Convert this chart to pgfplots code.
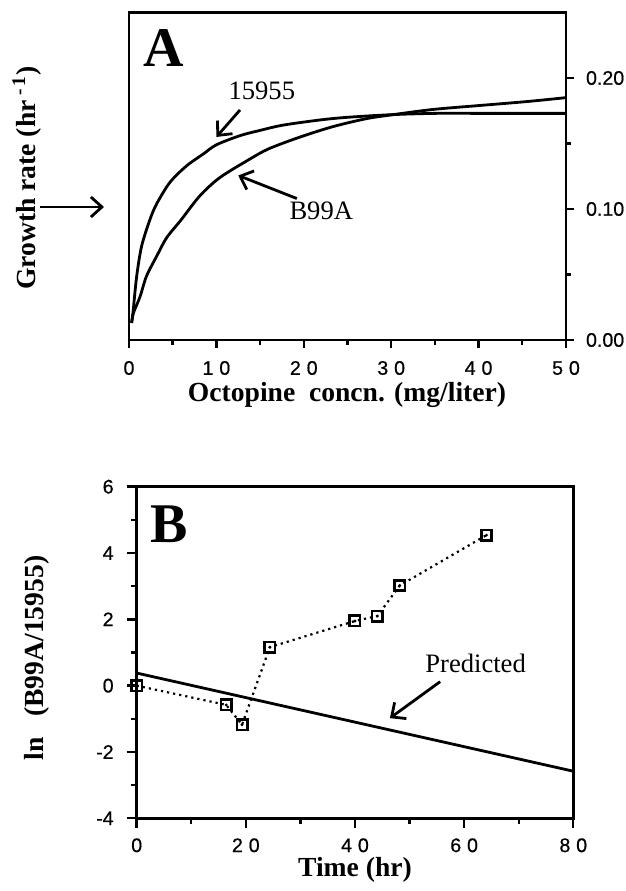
\documentclass[border=0pt]{standalone}
\usepackage{fontspec}
\setmainfont{Liberation Serif}
\newfontfamily\tickfont[FakeBold=0.6]{Liberation Sans}
\newfontfamily\xtickfont[LetterSpace=30,FakeBold=0.6]{Liberation Sans}
\usepackage{pgfplots}
\pgfplotsset{compat=1.18}
\usetikzlibrary{arrows.meta}

\pgfplotsset{
  panel/.style={
    scale only axis, anchor=south west,
    tick align=outside,
    axis line style={line width=1.4pt},
    every tick/.style={line width=1.2pt, black},
    every minor tick/.style={line width=1.2pt, black},
    xticklabel style={font=\xtickfont\fontsize{9.8}{11}\selectfont},
    yticklabel style={font=\tickfont\fontsize{9.8}{11}\selectfont},
    /pgf/number format/assume math mode=true,
    clip=false,
  },
}
\tikzset{
  lab/.style={font=\bfseries\fontsize{13.8}{16}\selectfont},
  ann/.style={font=\fontsize{13.3}{15}\selectfont},
  arr/.style={line width=1.4pt, -{Straight Barb[length=5.5pt,width=10pt,line width=1.4pt]}},
}

\begin{document}
\begin{tikzpicture}
\path[use as bounding box] (0,0) rectangle (313pt,445.5pt);

% panel A
\begin{axis}[panel,
  at={(64.5pt,275.5pt)}, width=218.5pt, height=163.75pt,
  major tick length=4pt, minor tick length=2.5pt,
  xmin=0, xmax=50, ymin=0, ymax=0.25,
  xtick={0,10,...,50}, minor xtick={5,15,...,45},
  ytick={0,0.1,0.2}, minor ytick={0.05,0.15},
  xtick pos=bottom, ytick pos=right, yticklabel pos=right,
  scaled y ticks=false,
  xticklabel style={yshift=-3pt},
  yticklabel style={xshift=2.5pt, /pgf/number format/.cd, fixed, fixed zerofill, precision=2},
]
\addplot[line width=1.4pt, smooth, tension=0.5] coordinates {
  (0.3,0.013)(0.45,0.0205)(0.88,0.0487)(1.45,0.0718)(2.4,0.092)(3.17,0.104)
  (4.7,0.1205)(6.6,0.133)(8.5,0.142)(10,0.149)(12.7,0.156)(15,0.160)
  (17.6,0.164)(21.9,0.168)(25,0.170)(30,0.172)(35,0.173)(40,0.173)
  (45,0.173)(50,0.173)};
\addplot[line width=1.4pt, smooth, tension=0.5] coordinates {
  (0.3,0.013)(0.5,0.0205)(1.26,0.033)(2.0,0.0487)(3.17,0.064)(4.3,0.078)
  (6,0.092)(8.1,0.110)(10.4,0.124)(13.8,0.138)(16,0.146)(19.6,0.155)
  (23.4,0.163)(27.2,0.169)(30.2,0.172)(34.8,0.176)(40.1,0.179)
  (45.5,0.182)(50,0.185)};
\node[font=\bfseries\fontsize{28}{30}\selectfont] at (axis cs:4.0,0.223) {A};
\node[ann] at (axis cs:15.2,0.190) {15955};
\draw[arr] (axis cs:12.7,0.1756) -- (axis cs:10.0,0.155);
\node[ann] at (axis cs:22,0.0985) {B99A};
\draw[arr] (axis cs:19.2,0.108) -- (axis cs:12.5,0.1256);
\end{axis}
\node[lab, rotate=90] at (13.5pt,356.5pt) {Growth rate (hr\,\textsuperscript{-\,1})};
\node[lab] at (173.5pt,248pt) {Octopine~~concn. (mg/liter)};
\draw[arr] (20pt,342pt) -- (52pt,342pt);

% panel B
\begin{axis}[panel,
  at={(68.35pt,36.35pt)}, width=218.3pt, height=165.8pt,
  major tick length=5pt, minor tick length=3pt,
  xmin=0, xmax=80, ymin=-4, ymax=6,
  xtick={0,20,...,80}, minor xtick={10,30,50,70},
  ytick={-4,-2,...,6}, minor ytick={-3,-1,...,5},
  xtick pos=bottom, ytick pos=left,
  xticklabel style={yshift=-1.5pt},
  yticklabel style={xshift=-3pt},
]
\addplot[line width=1.4pt] coordinates {(0,0.38)(80,-2.58)};
\addplot[line width=1.1pt, dotted, mark=square, mark size=2.6pt,
  mark options={solid, line width=1.3pt, fill=white}] coordinates {
  (0,0)(16.4,-0.58)(19.3,-1.18)(24.4,1.16)(40,1.95)(44.1,2.1)(48.2,3.02)(64.1,4.54)};
\addplot[only marks, mark=*, mark size=0.5pt] coordinates {
  (0,0)(16.4,-0.58)(19.3,-1.18)(24.4,1.16)(40,1.95)(44.1,2.1)(48.2,3.02)(64.1,4.54)};
\node[font=\bfseries\fontsize{28}{30}\selectfont] at (axis cs:6.0,4.87) {B};
\node[ann] at (axis cs:62.1,0.68) {Predicted};
\draw[arr] (axis cs:55.6,0.12) -- (axis cs:46.4,-0.98);
\end{axis}
\node[lab, rotate=90] at (18.5pt,116.5pt) {ln~~~(B99A/15955)};
\node[lab] at (177.5pt,10.5pt) {Time (hr)};
\end{tikzpicture}
\end{document}
